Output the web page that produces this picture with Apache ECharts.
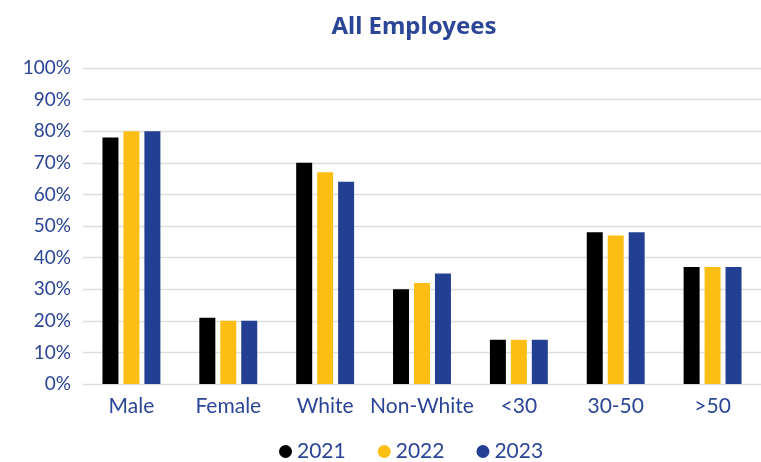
<!DOCTYPE html>
<html><head><meta charset="utf-8">
<script src="https://cdn.jsdelivr.net/npm/echarts@6/dist/echarts.min.js"></script>
<style>html,body{margin:0;padding:0;background:#fff}#c{width:761px;height:462px}</style>
</head><body><div id="c"></div>
<script>
const categories = ['Male','Female','White','Non-White','<30','30-50','>50'];
const s2021 = [78,21,70,30,14,48,37];
const s2022 = [80,20,67,32,14,47,37];
const s2023 = [80,20,64,35,14,48,37];
const seriesNames = ['2021','2022','2023'];
const colors = ['#000000','#FDBE14','#233F94'];
const textColor = '#2B4597';
const chart = echarts.init(document.getElementById('c'));
const data = [s2021,s2022,s2023];
chart.setOption({
  animation:false,
  title:{text:'All Employees',left:409,top:10,textAlign:'center',
    textStyle:{fontFamily:'Noto Sans',fontWeight:'bold',fontSize:24,color:textColor}},
  legend:{top:436,left:274,itemWidth:13,itemHeight:13,icon:'circle',itemGap:32,
    textStyle:{fontFamily:'Lato',fontSize:21,color:textColor}},
  grid:{left:83,top:68,width:690,bottom:78,containLabel:false},
  xAxis:{type:'category',data:categories,axisLine:{show:false},axisTick:{show:false},
    axisLabel:{interval:0,fontFamily:'Lato',fontSize:21,color:textColor,margin:12}},
  yAxis:{type:'value',min:0,max:100,interval:10,
    axisLabel:{formatter:'{value}%',fontFamily:'Lato',fontSize:19,color:textColor,margin:12},
    splitLine:{lineStyle:{color:'#DDDDDD',width:1.3}}},
  series: seriesNames.map((n,i)=>({name:n,type:'bar',data:data[i],barWidth:16,barGap:'31%',
    itemStyle:{color:colors[i]}}))
});
</script></body></html>
